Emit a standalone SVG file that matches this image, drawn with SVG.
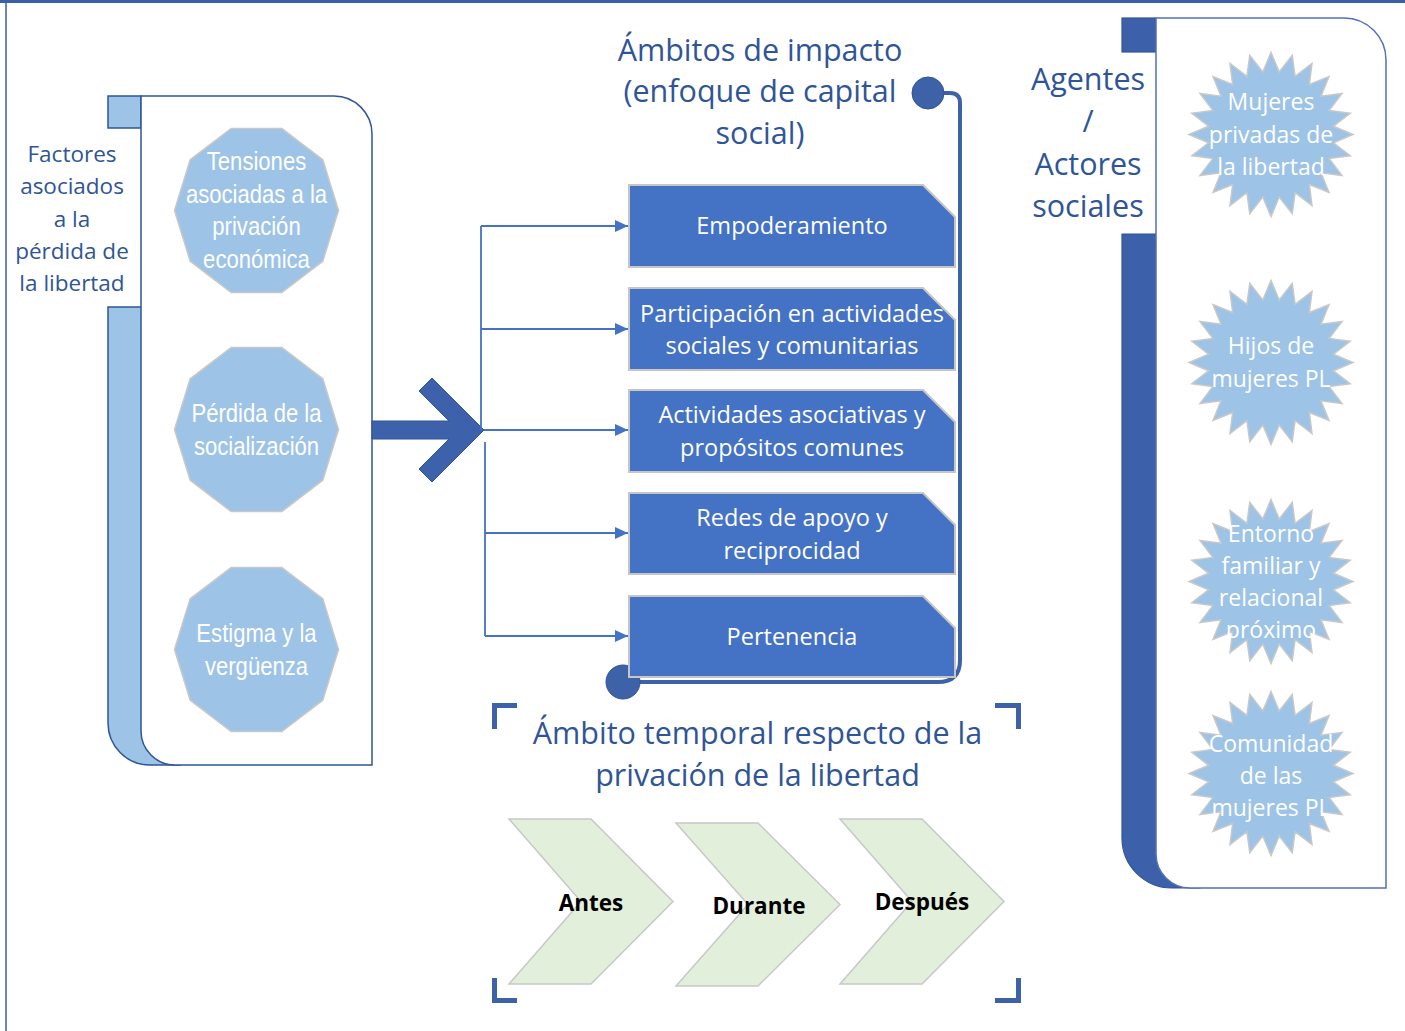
<svg xmlns="http://www.w3.org/2000/svg" width="1405" height="1031" viewBox="0 0 1405 1031">
<style>
.t{font-family:"Open Sans","Noto Sans",sans-serif}
.title{font-size:30.5px;fill:#2f5597;text-anchor:middle}
.lbl{font-size:22.5px;fill:#2f5597;text-anchor:middle}
.box{fill:#4472c4;stroke:#c6c6c6;stroke-width:2}
.boxt{font-size:23.5px;fill:#ffffff;text-anchor:middle}
.dec{fill:#9dc3e6;stroke:#c8c8c8;stroke-width:1.5}
.dect{font-family:"Liberation Sans",Arial,sans-serif;font-size:26px;fill:#ffffff;text-anchor:middle}
.star{fill:#9dc3e6;stroke:#c8c8c8;stroke-width:1.5}
.start{font-size:23px;fill:#ffffff;text-anchor:middle}
.chev{fill:#e2efda;stroke:#c8c8c8;stroke-width:1.5}
.chevt{font-size:22.5px;font-weight:bold;fill:#000000;text-anchor:middle}
.conn{stroke:#4472c4;stroke-width:1.8;fill:none}
.dk{fill:#3c61aa;stroke:#2f5597;stroke-width:1.2}
.lt{fill:#9dc3e6;stroke:#2f5597;stroke-width:1.5}
.corner{fill:none;stroke:#3d62a8;stroke-width:5}
</style>
<defs>
<marker id="ah" markerWidth="13" markerHeight="12" refX="13" refY="6" orient="auto" markerUnits="userSpaceOnUse"><path d="M0,0 L13,6 L0,12 Z" fill="#4472c4"/></marker>
<polygon id="dec" points="82,0 66.3,50.7 25.3,82.1 -25.3,82.1 -66.3,50.7 -82,0 -66.3,-50.7 -25.3,-82.1 25.3,-82.1 66.3,-50.7"/>
<path id="star24" d="M0,-82 L8.22,-62.46 L21.22,-79.21 L24.11,-58.2 L41,-71.01 L38.35,-49.98 L57.98,-57.98 L49.98,-38.35 L71.01,-41 L58.2,-24.11 L79.21,-21.22 L62.46,-8.22 L82,0 L62.46,8.22 L79.21,21.22 L58.2,24.11 L71.01,41 L49.98,38.35 L57.98,57.98 L38.35,49.98 L41,71.01 L24.11,58.2 L21.22,79.21 L8.22,62.46 L0,82 L-8.22,62.46 L-21.22,79.21 L-24.11,58.2 L-41,71.01 L-38.35,49.98 L-57.98,57.98 L-49.98,38.35 L-71.01,41 L-58.2,24.11 L-79.21,21.22 L-62.46,8.22 L-82,0 L-62.46,-8.22 L-79.21,-21.22 L-58.2,-24.11 L-71.01,-41 L-49.98,-38.35 L-57.98,-57.98 L-38.35,-49.98 L-41,-71.01 L-24.11,-58.2 L-21.22,-79.21 L-8.22,-62.46 Z"/>
</defs>

<g id="frame">
<line x1="6" y1="0" x2="6" y2="1031" stroke="#6a87c0" stroke-width="2"/>
<line x1="0" y1="1.5" x2="1405" y2="1.5" stroke="#3b5ea5" stroke-width="3"/>
</g>

<g id="factores-panel">
<rect x="108" y="96" width="33" height="32" class="lt"/>
<path d="M108,307 H180 V765 H150 A42,42 0 0 1 108,723 Z" class="lt"/>
<path d="M141,96 H334 A38,38 0 0 1 372,134 V765 H175 A34,34 0 0 1 141,731 Z" fill="#ffffff" stroke="#2f5597" stroke-width="1.5"/>
<text class="t lbl"><tspan x="72" y="162">Factores</tspan><tspan x="72" y="194">asociados</tspan><tspan x="72" y="227">a la</tspan><tspan x="72" y="259">pérdida de</tspan><tspan x="72" y="291">la libertad</tspan></text>
</g>

<g id="tensiones">
<use href="#dec" class="dec" transform="translate(256.5 210.5)"/>
<text class="dect" transform="translate(256.5 170) scale(0.85 1)">Tensiones</text>
<text class="dect" transform="translate(256.5 202.5) scale(0.85 1)">asociadas a la</text>
<text class="dect" transform="translate(256.5 235) scale(0.85 1)">privación</text>
<text class="dect" transform="translate(256.5 268) scale(0.85 1)">económica</text>
</g>
<g id="perdida">
<use href="#dec" class="dec" transform="translate(256.5 429.5)"/>
<text class="dect" transform="translate(256.5 422) scale(0.85 1)">Pérdida de la</text>
<text class="dect" transform="translate(256.5 455) scale(0.85 1)">socialización</text>
</g>
<g id="estigma">
<use href="#dec" class="dec" transform="translate(256.5 649.5)"/>
<text class="dect" transform="translate(256.5 642) scale(0.85 1)">Estigma y la</text>
<text class="dect" transform="translate(256.5 675) scale(0.85 1)">vergüenza</text>
</g>

<g id="big-arrow">
<path d="M372,421 H449 L419,391 L432,378 L484,430 L432,482 L419,469 L449,439 H372 Z" fill="#3d62ab" stroke="#2f5597" stroke-width="1"/>
</g>

<g id="bracket">
<path d="M944,93 H950 Q960,93 960,103 V660 Q960,682 938,682 H630" fill="none" stroke="#3d62a8" stroke-width="4"/>
<circle cx="928" cy="93" r="16" fill="#3d62a8" stroke="#2f5597" stroke-width="1"/>
<circle cx="623" cy="682" r="17" fill="#3d62a8" stroke="#2f5597" stroke-width="1"/>
</g>

<g id="connectors">
<path class="conn" d="M481,226 V430"/>
<path class="conn" d="M485,442 V636"/>
<path class="conn" d="M481,226 H628" marker-end="url(#ah)"/>
<path class="conn" d="M481,329 H628" marker-end="url(#ah)"/>
<path class="conn" d="M484,430 H628" marker-end="url(#ah)"/>
<path class="conn" d="M485,533 H628" marker-end="url(#ah)"/>
<path class="conn" d="M485,636 H628" marker-end="url(#ah)"/>
</g>

<g id="ambitos-title">
<text class="t title"><tspan x="760" y="61">Ámbitos de impacto</tspan><tspan x="760" y="102">(enfoque de capital</tspan><tspan x="760" y="144">social)</tspan></text>
</g>

<g id="empoderamiento">
<path class="box" d="M629,185 H923 L955,217 V267 H629 Z"/>
<text class="t boxt" x="792" y="234">Empoderamiento</text>
</g>
<g id="participacion">
<path class="box" d="M629,288 H923 L955,320 V370 H629 Z"/>
<text class="t boxt"><tspan x="792" y="322">Participación en actividades</tspan><tspan x="792" y="354">sociales y comunitarias</tspan></text>
</g>
<g id="actividades">
<path class="box" d="M629,390 H923 L955,422 V472 H629 Z"/>
<text class="t boxt"><tspan x="792" y="423">Actividades asociativas y</tspan><tspan x="792" y="456">propósitos comunes</tspan></text>
</g>
<g id="redes">
<path class="box" d="M629,493 H923 L955,525 V574 H629 Z"/>
<text class="t boxt"><tspan x="792" y="526">Redes de apoyo y</tspan><tspan x="792" y="559">reciprocidad</tspan></text>
</g>
<g id="pertenencia">
<path class="box" d="M629,596 H923 L955,628 V677 H629 Z"/>
<text class="t boxt" x="792" y="645">Pertenencia</text>
</g>

<g id="agentes-panel">
<rect x="1122" y="18" width="34" height="34" class="dk"/>
<path d="M1122,234 H1200 V888 H1172 A50,50 0 0 1 1122,838 Z" class="dk"/>
<path d="M1156,18 H1344 A42,42 0 0 1 1386,60 V888 H1190 A34,34 0 0 1 1156,854 Z" fill="#ffffff" stroke="#4f72b8" stroke-width="1.5"/>
<text class="t title"><tspan x="1088" y="90">Agentes</tspan><tspan x="1088" y="132">/</tspan><tspan x="1088" y="175">Actores</tspan><tspan x="1088" y="217">sociales</tspan></text>
</g>

<g id="mujeres">
<use href="#star24" class="star" transform="translate(1271 134.5)"/>
<text class="t start"><tspan x="1271" y="110">Mujeres</tspan><tspan x="1271" y="143">privadas de</tspan><tspan x="1271" y="175">la libertad</tspan></text>
</g>
<g id="hijos">
<use href="#star24" class="star" transform="translate(1271 362.5)"/>
<text class="t start"><tspan x="1271" y="354">Hijos de</tspan><tspan x="1271" y="387">mujeres PL</tspan></text>
</g>
<g id="entorno">
<use href="#star24" class="star" transform="translate(1271 581.5)"/>
<text class="t start"><tspan x="1271" y="542">Entorno</tspan><tspan x="1271" y="574">familiar y</tspan><tspan x="1271" y="606">relacional</tspan><tspan x="1271" y="638">próximo</tspan></text>
</g>
<g id="comunidad">
<use href="#star24" class="star" transform="translate(1271 773.5)"/>
<text class="t start"><tspan x="1271" y="752">Comunidad</tspan><tspan x="1271" y="784">de las</tspan><tspan x="1271" y="816">mujeres PL</tspan></text>
</g>

<g id="temporal">
<path class="corner" d="M494.5,729 V705.5 H517"/>
<path class="corner" d="M995,705.5 H1018.5 V729"/>
<path class="corner" d="M494.5,978 V1000.5 H517"/>
<path class="corner" d="M995,1000.5 H1018.5 V978"/>
<text class="t title"><tspan x="757.5" y="744">Ámbito temporal respecto de la</tspan><tspan x="757.5" y="786">privación de la libertad</tspan></text>
</g>
<g id="antes">
<path class="chev" d="M509,819 H591 L673,901.5 L591,984 H509 L581,901.5 Z"/>
<text class="t chevt" x="591" y="911">Antes</text>
</g>
<g id="durante">
<path class="chev" d="M676,823 H758 L840,904.5 L758,986 H676 L748,904.5 Z"/>
<text class="t chevt" x="759" y="914">Durante</text>
</g>
<g id="despues">
<path class="chev" d="M840,819 H922 L1004,901.5 L922,984 H840 L912,901.5 Z"/>
<text class="t chevt" x="922" y="910">Después</text>
</g>
</svg>
